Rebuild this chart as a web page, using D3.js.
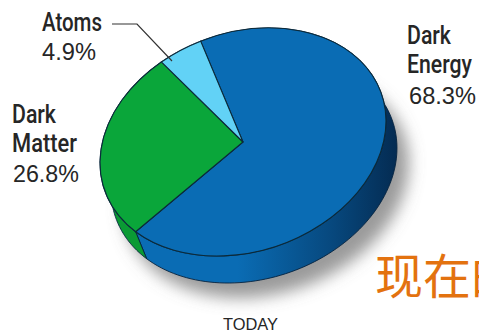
<!DOCTYPE html>
<html>
<head>
<meta charset="utf-8">
<script src="https://cdn.jsdelivr.net/npm/d3@7/dist/d3.min.js"></script>
<style>
html,body{margin:0;padding:0;background:#fff;overflow:hidden}
svg{display:block}
text{fill:#262626}
</style>
</head>
<body>
<script>
// Composition of the universe today
const categories = ["Dark Energy", "Dark Matter", "Atoms"];
const shares = [68.3, 26.8, 4.9];
const topColors = ["#0a6cb4", "#0aa63a", "#62d2f6"];
const sideColors = ["url(#rimShade)", "#0a9a34", "#3aa8d0"];

const HEAD = 'Roboto,sans-serif';
const PLAIN = '"Liberation Sans",sans-serif';

// Text blocks: each line with its anchor and fitted width
const textLines = [
  {t:"Atoms",  x:42,  y:31,  w:60, s:25, b:500, f:HEAD},
  {t:"4.9%",   x:42,  y:60,  w:54, s:24, b:400, f:PLAIN},
  {t:"Dark",   x:12,  y:123, w:44, s:25, b:500, f:HEAD},
  {t:"Matter", x:12,  y:152, w:65, s:25, b:500, f:HEAD},
  {t:"26.8%",  x:13,  y:182, w:66, s:24, b:400, f:PLAIN},
  {t:"Dark",   x:407, y:44,  w:44, s:25, b:500, f:HEAD},
  {t:"Energy", x:407, y:73,  w:65, s:25, b:500, f:HEAD},
  {t:"68.3%",  x:409, y:104, w:67, s:24, b:400, f:PLAIN},
  {t:"TODAY",  x:223, y:330, w:55, s:16, b:400, f:PLAIN}
];

const W = 479, H = 334;
const disc = {cx:243, cy:142, a:146.6, b:109.3, tilt:-19.4};
const depth = {dx:11, dy:27};
const phase = -2.5 * Math.PI / 180;

const svg = d3.select("body").append("svg").attr("width", W).attr("height", H);
const defs = svg.append("defs");

const rimShade = defs.append("linearGradient").attr("id", "rimShade")
  .attr("gradientUnits", "userSpaceOnUse")
  .attr("x1", 150).attr("x2", 400).attr("y1", 0).attr("y2", 0);
rimShade.append("stop").attr("offset", "0.35").attr("stop-color", "#0a6cb4");
rimShade.append("stop").attr("offset", "0.72").attr("stop-color", "#07497f");
rimShade.append("stop").attr("offset", "1").attr("stop-color", "#042a50");

defs.append("filter").attr("id", "soft")
  .attr("x", "-20%").attr("y", "-20%").attr("width", "140%").attr("height", "140%")
  .append("feGaussianBlur").attr("stdDeviation", 8);

const slices = d3.pie().sort(null).startAngle(phase).endAngle(phase + 2 * Math.PI)(shares);
const discTransform = `translate(${disc.cx},${disc.cy}) rotate(${disc.tilt}) scale(${disc.a},${disc.b})`;
const wedge = d3.arc().innerRadius(0).outerRadius(1);

// Point on the tilted rim for a pie angle
const rad = disc.tilt * Math.PI / 180;
function rim(angle) {
  const u = disc.a * Math.sin(angle), v = -disc.b * Math.cos(angle);
  return [disc.cx + u * Math.cos(rad) - v * Math.sin(rad),
          disc.cy + u * Math.sin(rad) + v * Math.cos(rad)];
}
const polyline = d3.line();

// Ground shadow under the disc
svg.append("g")
  .attr("transform", `translate(${depth.dx + 12},${depth.dy + 15})`)
  .append("g").attr("filter", "url(#soft)")
  .append("ellipse")
  .attr("transform", discTransform)
  .attr("rx", 1).attr("ry", 1)
  .attr("fill", "#6f6f6f").attr("opacity", 0.7);

// Extruded side wall, one band per slice
svg.append("g").selectAll("path").data(slices).join("path")
  .attr("data-name", (d, i) => categories[i])
  .attr("d", d => {
    const angles = d3.range(0, 121).map(i => d.startAngle + (d.endAngle - d.startAngle) * i / 120);
    const upper = angles.map(rim);
    const lower = upper.map(p => [p[0] + depth.dx, p[1] + depth.dy]).reverse();
    return polyline(upper.concat(lower)) + "Z";
  })
  .attr("fill", (d, i) => sideColors[i])
  .attr("stroke", "#04233f").attr("stroke-width", 0.9);

// Top face
svg.append("g").attr("transform", discTransform)
  .selectAll("path").data(slices).join("path")
  .attr("data-name", (d, i) => categories[i])
  .attr("d", wedge)
  .attr("fill", (d, i) => topColors[i])
  .attr("stroke", "#0b2a3a")
  .attr("stroke-width", 1.1)
  .attr("vector-effect", "non-scaling-stroke");

// Leader from the Atoms label into its slice
svg.append("path")
  .attr("d", polyline([[112, 24], [137, 24], [172, 61]]))
  .attr("fill", "none").attr("stroke", "#333").attr("stroke-width", 1.2);

// Labels are squeezed horizontally to the condensed width of each line
svg.append("g").selectAll("text").data(textLines).join("text")
  .attr("font-size", d => d.s)
  .attr("font-weight", d => d.b)
  .style("font-family", d => d.f)
  .text(d => d.t)
  .attr("transform", function(d) {
    const k = d.w / this.getComputedTextLength();
    return `translate(${d.x},${d.y}) scale(${k},1)`;
  });

svg.append("text")
  .attr("x", 375).attr("y", 294)
  .style("font-family", '"Noto Sans CJK SC"')
  .style("fill", "#e3720f")
  .attr("font-size", 48)
  .text("现在的");
</script>
</body>
</html>
